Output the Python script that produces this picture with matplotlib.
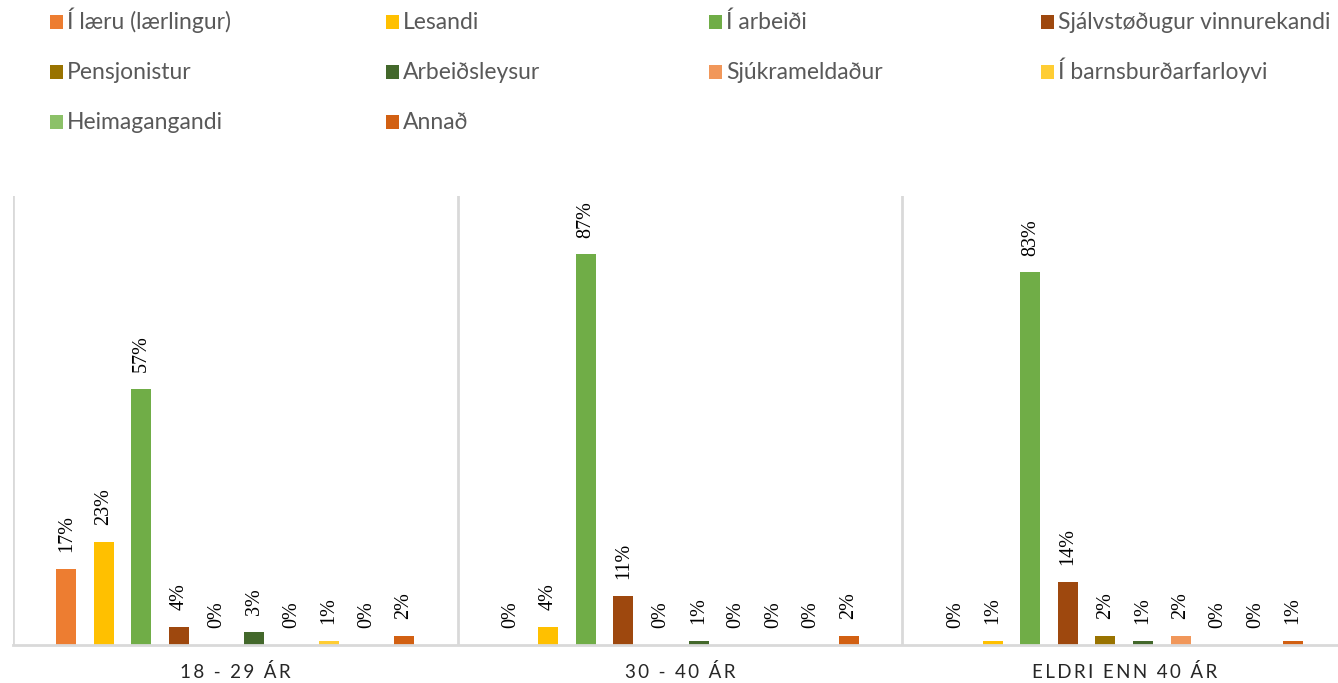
import numpy as np
import matplotlib
matplotlib.use("Agg")
import matplotlib.pyplot as plt
from matplotlib.patches import Rectangle

# Aldursbólkar og støða
groups = ["18 - 29 ÁR", "30 - 40 ÁR", "ELDRI ENN 40 ÁR"]
series = ["Í læru (lærlingur)", "Lesandi", "Í arbeiði", "Sjálvstøðugur vinnurekandi",
          "Pensjonistur", "Arbeiðsleysur", "Sjúkrameldaður", "Í barnsburðarfarloyvi",
          "Heimagangandi", "Annað"]
colors = ["#ED7D31", "#FFC000", "#70AD47", "#9E480E", "#997300",
          "#43682B", "#F1975A", "#FFCD33", "#8CC168", "#D26012"]

# virði í % (rað = bólkur, kolonna = støða)
vals_18_29 = [17, 23, 57, 4, 0, 3, 0, 1, 0, 2]
vals_30_40 = [0, 4, 87, 11, 0, 1, 0, 0, 0, 2]
vals_40_plus = [0, 1, 83, 14, 2, 1, 2, 0, 0, 1]

data = np.array([vals_18_29, vals_30_40, vals_40_plus]) / 100.0

W, H = 1338, 683
fig = plt.figure(figsize=(W / 100, H / 100), dpi=100)
ax = fig.add_axes([13 / W, 38 / H, 1333.5 / W, 449 / H])

x = np.arange(len(groups))
step = 0.0844
width = 0.045
n = len(series)

for i in range(n):
    pos = x + (i - (n - 1) / 2) * step
    bars = ax.bar(pos, data[:, i], width, color=colors[i], label=series[i])
    for b, v in zip(bars, data[:, i]):
        ax.annotate(f"{v * 100:.0f}%", (b.get_x() + b.get_width() / 2, v),
                    xytext=(0, 12), textcoords="offset points",
                    rotation=90, ha="center", va="bottom",
                    fontsize=14.5, family="Liberation Serif", color="#000000")

ax.set_xlim(-0.5, len(groups) - 0.5)
ax.set_ylim(0, 1)
ax.set_yticks([])
for s in ["top", "right", "left"]:
    ax.spines[s].set_visible(False)
ax.spines["bottom"].set_color("#d9d9d9")
ax.spines["bottom"].set_linewidth(2)

# vertikal skililinjur millum bólkar
for b in np.arange(-0.5, len(groups), 1.0):
    ax.axvline(b, color="#d9d9d9", lw=2, zorder=0)

ax.set_xticks(x)
ax.set_xticklabels(["\u2009".join(g) for g in groups],
                   fontsize=13.5, color="#262626", family=["Lato", "DejaVu Sans"])
ax.tick_params(axis="x", length=0, pad=13)

# legenda: 4 kolonnur, 3 røðir
col_x = [50, 386, 709, 1041]
row_y = [22, 72, 122]
sq = 13
for i in range(n):
    r, c = divmod(i, 4)
    x0, yc = col_x[c], row_y[r]
    fig.patches.append(Rectangle((x0 / W, 1 - (yc + sq / 2) / H), sq / W, sq / H,
                                 transform=fig.transFigure, facecolor=colors[i],
                                 edgecolor="none"))
    fig.text((x0 + sq + 4) / W, 1 - (yc + 7) / H, series[i], ha="left", va="baseline",
             fontsize=16.5, family="Lato", color="#595959")

fig.savefig("out.png", dpi=100)
